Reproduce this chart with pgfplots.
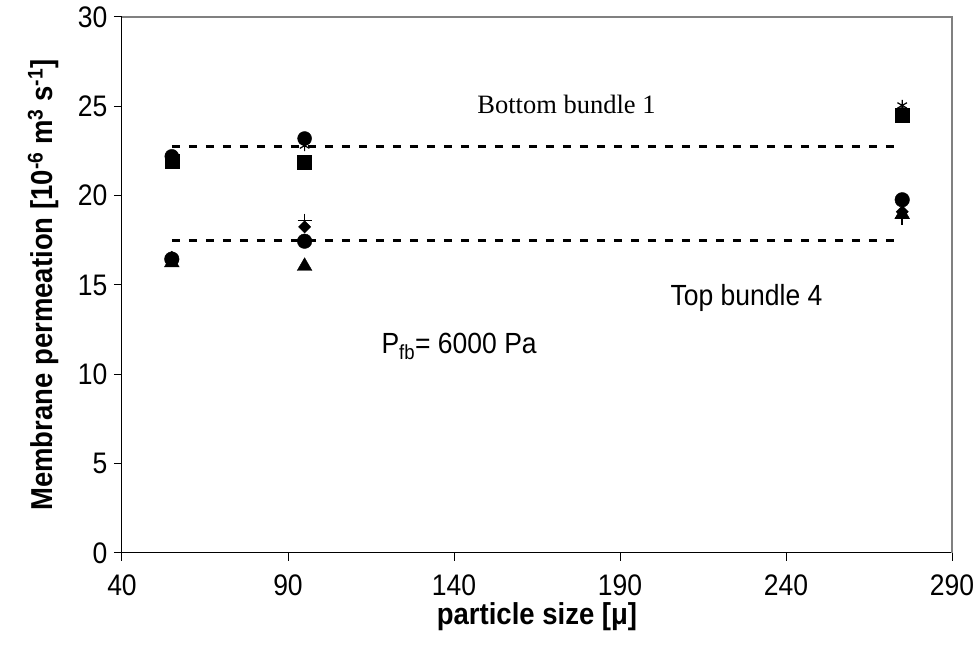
\documentclass[border=0pt]{standalone}
\usepackage{fontspec}
\setmainfont{Liberation Sans}
\newfontfamily\tnr{Liberation Serif}
\usepackage{pgfplots}
\pgfplotsset{compat=1.18}
\begin{document}
\begin{tikzpicture}
\begin{axis}[
  scale only axis,
  width=830pt, height=536pt,
  xmin=40, xmax=290, ymin=0, ymax=30,
  xtick={40,90,...,290}, ytick={0,5,...,30},
  axis x line*=bottom, axis y line*=left,
  axis line style={black, line width=1pt},
  tick align=outside, major tick length=8pt,
  tick style={black, line width=1pt},
  /pgf/number format/assume math mode=true,
  ticklabel style={font=\fontsize{26.5}{30}\selectfont, yscale=1.12},
  xticklabel style={yshift=-9pt},
  yticklabel style={xshift=-3pt},
  xlabel={\textbf{particle size [μ]}},
  ylabel={\textbf{Membrane permeation [10\textsuperscript{-6} m\textsuperscript{3} s\textsuperscript{-1}]}},
  label style={font=\fontsize{27.5}{30}\selectfont},
  xlabel style={yshift=1pt, yscale=1.1},
  ylabel style={yshift=12pt, yscale=1.1},
  clip=false,
]
\draw[gray, line width=1.5pt] (rel axis cs:0,1) -- (rel axis cs:1,1) -- (rel axis cs:1,0);
% fitted dashed lines
\addplot[black, line width=3pt, dash pattern=on 8pt off 9pt] coordinates {(55,22.75) (275,22.75)};
\addplot[black, line width=3pt, dash pattern=on 8pt off 9pt] coordinates {(55,17.5) (275,17.5)};
% Bottom bundle 1
\addplot[only marks, mark=asterisk, mark size=5.5pt, black, line width=1.2pt] coordinates {(55,22.1) (95,22.8) (275,25.05)};
\addplot[only marks, mark=*, mark size=7pt, black] coordinates {(55,22.2) (95,23.2) (275,24.55)};
\addplot[only marks, mark=square*, mark size=7pt, black] coordinates {(55,21.95) (95,21.85) (275,24.5)};
% Top bundle 4
\addplot[only marks, mark=+, mark size=7pt, black, line width=1.5pt] coordinates {(55,16.4) (95,18.6) (275,18.75)};
\addplot[only marks, mark=square*, mark size=4.3pt, mark options={rotate=45}, black] coordinates {(55,16.55) (95,18.25) (275,19.1)};
\addplot[only marks, mark=*, mark size=7.3pt, black] coordinates {(55,16.45) (95,17.45) (275,19.77)};
\addplot[only marks, mark=triangle*, mark size=8.5pt, black] coordinates {(55,16.25) (95,16.05) (275,18.95)};
% annotations
\node[anchor=base west, font=\tnr\fontsize{26.5}{30}\selectfont] at (axis cs:146,24.6) {Bottom bundle 1};
\node[anchor=base west, font=\fontsize{26.5}{30}\selectfont, yscale=1.1] at (axis cs:204.2,13.85) {Top bundle 4};
\node[anchor=base west, font=\fontsize{26.5}{30}\selectfont, yscale=1.1] at (axis cs:117.1,11.15) {P\textsubscript{fb}= 6000 Pa};
\end{axis}
\pgfresetboundingbox
\useasboundingbox (-122pt,-99pt) rectangle (855pt,553pt);
\end{tikzpicture}
\end{document}
